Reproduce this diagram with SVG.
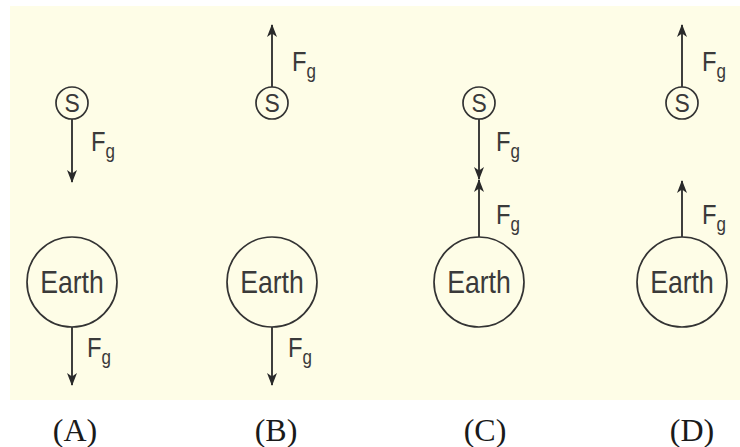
<svg xmlns="http://www.w3.org/2000/svg" width="740" height="447" viewBox="0 0 740 447">
<style>
.bg{fill:#FEFDE7}
.c{fill:none;stroke:#333;stroke-width:1.7}
.a{stroke:#2a2a2a;stroke-width:1.8;fill:none}
.e{font-family:"Liberation Sans",Arial,sans-serif;font-size:31px;fill:#3a3a3a;text-anchor:middle}
.s{font-family:"Liberation Sans",Arial,sans-serif;font-size:26px;fill:#3a3a3a;text-anchor:middle}
.f{font-family:"Liberation Sans",Arial,sans-serif;font-size:28px;fill:#3a3a3a}
.sub{font-size:20px}
.l{font-family:"Liberation Serif","Times New Roman",serif;font-size:32px;fill:#1a1a1a;text-anchor:middle}
</style>
<defs>
<marker id="ah" viewBox="0 0 13 10" refX="12" refY="5" markerWidth="13" markerHeight="10" markerUnits="userSpaceOnUse" orient="auto">
<path d="M0,0 L13,5 L0,10 L3.5,5 Z" fill="#2a2a2a"/>
</marker>
</defs>
<rect class="bg" x="10" y="6" width="730" height="394"/>
<g id="connectors">
<line class="a" x1="72" y1="119" x2="72" y2="182" marker-end="url(#ah)"/>
<line class="a" x1="72" y1="327" x2="72" y2="385" marker-end="url(#ah)"/>
<line class="a" x1="272" y1="87" x2="272" y2="25" marker-end="url(#ah)"/>
<line class="a" x1="272" y1="327" x2="272" y2="385" marker-end="url(#ah)"/>
<line class="a" x1="479" y1="119" x2="479" y2="179" marker-end="url(#ah)"/>
<line class="a" x1="479" y1="237" x2="479" y2="180" marker-end="url(#ah)"/>
<line class="a" x1="682" y1="87" x2="682" y2="25" marker-end="url(#ah)"/>
<line class="a" x1="682" y1="237" x2="682" y2="181" marker-end="url(#ah)"/>
</g>
<g id="nodeA">
<circle class="c" cx="72" cy="103" r="16"/><text class="s" transform="translate(72,112) scale(0.88,1)">S</text>
<text class="f" transform="translate(91,151) scale(0.85,1)">F<tspan class="sub" dy="7">g</tspan></text>
<circle class="c" cx="72" cy="282" r="45"/><text class="e" transform="translate(72,293) scale(0.86,1)">Earth</text>
<text class="f" transform="translate(87,357) scale(0.85,1)">F<tspan class="sub" dy="7">g</tspan></text>
<text class="l" x="75" y="441">(A)</text>
</g>
<g id="nodeB">
<circle class="c" cx="272" cy="103" r="16"/><text class="s" transform="translate(272,112) scale(0.88,1)">S</text>
<text class="f" transform="translate(292,71) scale(0.85,1)">F<tspan class="sub" dy="7">g</tspan></text>
<circle class="c" cx="272" cy="282" r="45"/><text class="e" transform="translate(272,293) scale(0.86,1)">Earth</text>
<text class="f" transform="translate(288,357) scale(0.85,1)">F<tspan class="sub" dy="7">g</tspan></text>
<text class="l" x="276" y="441">(B)</text>
</g>
<g id="nodeC">
<circle class="c" cx="479" cy="103" r="16"/><text class="s" transform="translate(479,112) scale(0.88,1)">S</text>
<text class="f" transform="translate(496,151) scale(0.85,1)">F<tspan class="sub" dy="7">g</tspan></text>
<circle class="c" cx="479" cy="282" r="45"/><text class="e" transform="translate(479,293) scale(0.86,1)">Earth</text>
<text class="f" transform="translate(496,224) scale(0.85,1)">F<tspan class="sub" dy="7">g</tspan></text>
<text class="l" x="485" y="441">(C)</text>
</g>
<g id="nodeD">
<circle class="c" cx="682" cy="103" r="16"/><text class="s" transform="translate(682,112) scale(0.88,1)">S</text>
<text class="f" transform="translate(702,71) scale(0.85,1)">F<tspan class="sub" dy="7">g</tspan></text>
<circle class="c" cx="682" cy="282" r="45"/><text class="e" transform="translate(682,293) scale(0.86,1)">Earth</text>
<text class="f" transform="translate(702,224) scale(0.85,1)">F<tspan class="sub" dy="7">g</tspan></text>
<text class="l" x="692" y="441">(D)</text>
</g>
</svg>
